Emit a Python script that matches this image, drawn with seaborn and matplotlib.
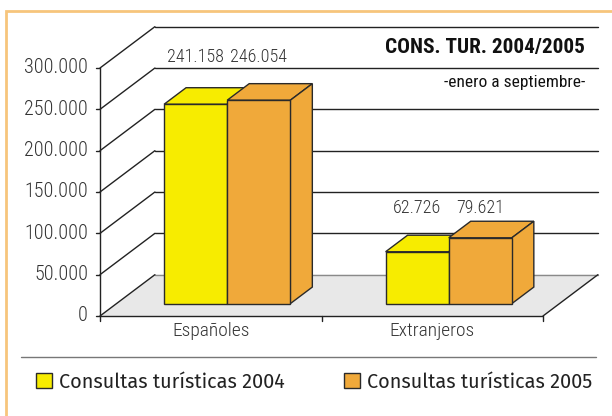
import numpy as np
import pandas as pd
import matplotlib
matplotlib.use("Agg")
import matplotlib.pyplot as plt
from matplotlib.patches import Polygon, Rectangle, Patch
import seaborn as sns

# Data
categories = ["Españoles", "Extranjeros"]
series = ["Consultas turísticas 2004", "Consultas turísticas 2005"]
values_2004 = [241158, 62726]
values_2005 = [246054, 79621]
y_ticks = [0, 50000, 100000, 150000, 200000, 250000, 300000]
title = "CONS. TUR. 2004/2005"
subtitle = "-enero a septiembre-"

colors = ["#F7EC00", "#F0A93A"]
edge = "#2a2a2a"

sns.set_theme(style="white")
plt.rcParams["font.family"] = ["Roboto Condensed", "DejaVu Sans"]

df = pd.DataFrame({
    "cat": categories * 2,
    "serie": [series[0]] * 2 + [series[1]] * 2,
    "val": values_2004 + values_2005,
})


def fmt(v):
    return f"{v:,}".replace(",", ".")


fig = plt.figure(figsize=(6.12, 4.16), dpi=100)
ax = fig.add_axes([0, 0, 1, 1])

sns.barplot(data=df, x="cat", y="val", hue="serie", order=categories,
            hue_order=series, palette=colors, width=0.57, saturation=1,
            edgecolor=edge, linewidth=1, legend=False, ax=ax)

# pixel-matched limits
ax.set_xlim(-0.9515, 1.8115)
ax.set_ylim(-120968, 382258)
ax.set_axis_off()

# depth of the 3D box
D, H = 0.248, 50000
x0, x1 = -0.5, 1.5
top = max(y_ticks)
txt_col = "#333333"

# floor
ax.add_patch(Polygon([(x0, 0), (x1, 0), (x1 + D, H), (x0 + D, H)],
                     closed=True, facecolor="#E8E8E8", edgecolor="none", zorder=1))
ax.plot([x0 + D, x1 + D], [H, H], color="#8a8a8a", lw=1, zorder=1.5)
ax.plot([x1, x1 + D], [0, H], color="#222222", lw=1, zorder=1.5)

# back wall grid and side wall diagonals
for v in y_ticks:
    ax.plot([x0, x0 + D], [v, v + H], color="#222222", lw=1, zorder=1.5)
    if v > 0:
        ax.plot([x0 + D, x1 + D], [v + H, v + H], color="#222222", lw=1, zorder=1.5)
    ax.plot([x0 - 0.018, x0], [v, v], color="#222222", lw=1, zorder=2)
    ax.text(x0 - 0.054, v, fmt(v), ha="right", va="center", fontsize=14.5,
            fontweight="light", color=txt_col)

# front axes
ax.plot([x0, x0], [0, top], color="#222222", lw=1, zorder=2)
ax.plot([x0, x1], [0, 0], color="#222222", lw=1, zorder=2)
for xt in [x0, 0.5, x1]:
    ax.plot([xt, xt], [0, -6000], color="#222222", lw=1, zorder=2)
for i, c in enumerate(categories):
    ax.text(i, -18000, c, ha="center", va="center", fontsize=14,
            fontweight="light", color=txt_col)

# turn flat bars into boxes
off_x, off_y = 0.3 * D, 0.3 * H
d, h = 0.4 * D, 0.4 * H
bars = [b for b in ax.patches if isinstance(b, Rectangle) and b.get_height() > 0][:4]
z = 3
order = [0, 2, 1, 3]  # 2004 then 2005 within each category
for k in order:
    b = bars[k]
    b.set_x(b.get_x() + off_x)
    b.set_y(off_y)
    bx, bw, bh = b.get_x(), b.get_width(), b.get_height()
    col = b.get_facecolor()
    ty = off_y + bh
    ax.add_patch(Polygon([(bx, ty), (bx + bw, ty), (bx + bw + d, ty + h), (bx + d, ty + h)],
                         closed=True, facecolor=col, edgecolor=edge, lw=1, zorder=z))
    ax.add_patch(Polygon([(bx + bw, off_y), (bx + bw + d, off_y + h), (bx + bw + d, ty + h), (bx + bw, ty)],
                         closed=True, facecolor=col, edgecolor=edge, lw=1, zorder=z))
    b.set_zorder(z + 0.5)
    z += 1

# value labels
for i in range(len(categories)):
    gmax = max(values_2004[i], values_2005[i])
    ly = gmax * 1.1 + 43000
    for j, vals in enumerate([values_2004, values_2005]):
        lx = i + (j - 0.5) * 0.285 + off_x
        ax.text(lx, ly, fmt(vals[i]), ha="center", va="center", fontsize=13,
                fontweight="light", color=txt_col, zorder=10)

# title
fig.text(585 / 612, 1 - 48 / 416, title, ha="right", va="center", fontsize=15.3,
         fontweight="bold", color="#111111")
fig.text(585 / 612, 1 - 83 / 416, subtitle, ha="right", va="center", fontsize=12.5,
         color="#111111")

# frame and separator
fig.add_artist(Rectangle((6 / 612, -0.1), 1.2, 1.1 - 11 / 416, transform=fig.transFigure,
                         facecolor="none", edgecolor="#F7C57C", lw=2))
fig.add_artist(plt.Line2D([21 / 612, 596 / 612], [1 - 357 / 416] * 2,
                          transform=fig.transFigure, color="#777777", lw=1))

# legend
handles = [Patch(facecolor=colors[0], edgecolor=edge, lw=1),
           Patch(facecolor=colors[1], edgecolor=edge, lw=1)]
leg = fig.legend(handles, series, loc="center left",
                 bbox_to_anchor=(36 / 612, 1 - 382 / 416), ncol=2, frameon=False,
                 prop={"family": "Fira Sans", "weight": "normal", "size": 14.3},
                 handlelength=0.8, handleheight=0.8, handletextpad=0.35,
                 columnspacing=3.0, borderpad=0, borderaxespad=0)
for t in leg.get_texts():
    t.set_color("#222222")

fig.savefig("out.png", dpi=100)
